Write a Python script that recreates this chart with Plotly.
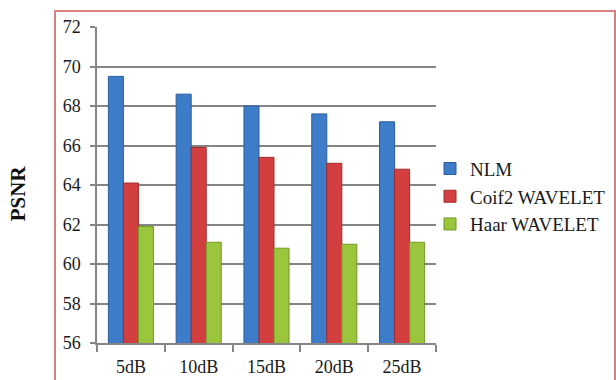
import plotly.graph_objects as go

# PSNR per noise level for each denoising method
categories = ["5dB", "10dB", "15dB", "20dB", "25dB"]
nlm = [69.5, 68.6, 68.0, 67.6, 67.2]
coif2 = [64.1, 65.9, 65.4, 65.1, 64.8]
haar = [61.9, 61.1, 60.8, 61.0, 61.1]

series = [
    ("NLM", nlm, "#3d7cc9", "#2b5d9c"),
    ("Coif2 WAVELET", coif2, "#d33f3f", "#a02c2c"),
    ("Haar WAVELET", haar, "#9bc53d", "#73992a"),
]

font_family = "Liberation Serif, serif"

fig = go.Figure()
for name, vals, fill, edge in series:
    fig.add_trace(go.Bar(
        x=categories, y=vals, name=name, legendgroup=name,
        marker=dict(color=fill, line=dict(color=edge, width=1)),
    ))

fig.update_layout(
    width=616, height=380,
    margin=dict(l=97, r=180, t=27, b=37, autoexpand=False),
    paper_bgcolor="white", plot_bgcolor="white",
    barmode="group", bargap=0.335, bargroupgap=0,
    font=dict(family=font_family, size=18, color="#1a1a1a"),
    showlegend=True,
    legend=dict(
        x=430 / 616, y=0.463, xref="container", yref="paper",
        xanchor="left", yanchor="middle",
        font=dict(family=font_family, size=19, color="#1a1a1a"),
        tracegroupgap=0, itemwidth=30,
        bgcolor="rgba(0,0,0,0)",
    ),
    xaxis=dict(
        automargin=False,
        showline=True, linecolor="#858585", linewidth=1.5,
        ticks="outside", ticklen=7, tickcolor="#858585", tickwidth=1.5,
        tickson="boundaries", showgrid=False,
        tickfont=dict(family=font_family, size=18),
        ticklabelstandoff=7,
    ),
    yaxis=dict(
        automargin=False,
        range=[56, 72], dtick=2, tick0=56,
        showline=True, linecolor="#858585", linewidth=1.5,
        ticks="outside", ticklen=5, tickcolor="#858585", tickwidth=1.5,
        showgrid=True, gridcolor="#858585", gridwidth=1.5,
        tickfont=dict(family=font_family, size=18),
        ticklabelstandoff=6, zeroline=False,
    ),
)

# Axis title drawn as a rotated annotation
fig.add_annotation(
    text="<b>PSNR</b>", xref="paper", yref="paper",
    x=-0.232, y=0.475, xanchor="center", yanchor="middle",
    textangle=-90, showarrow=False,
    font=dict(family=font_family, size=21, color="#111111"),
)

# Outer chart border
fig.add_shape(
    type="rect", xref="paper", yref="paper",
    x0=-0.1239, x1=1.528, y0=-0.15, y1=1.0506,
    line=dict(color="#d98080", width=2), fillcolor="rgba(0,0,0,0)",
    layer="below",
)

fig.write_html("out.html")
